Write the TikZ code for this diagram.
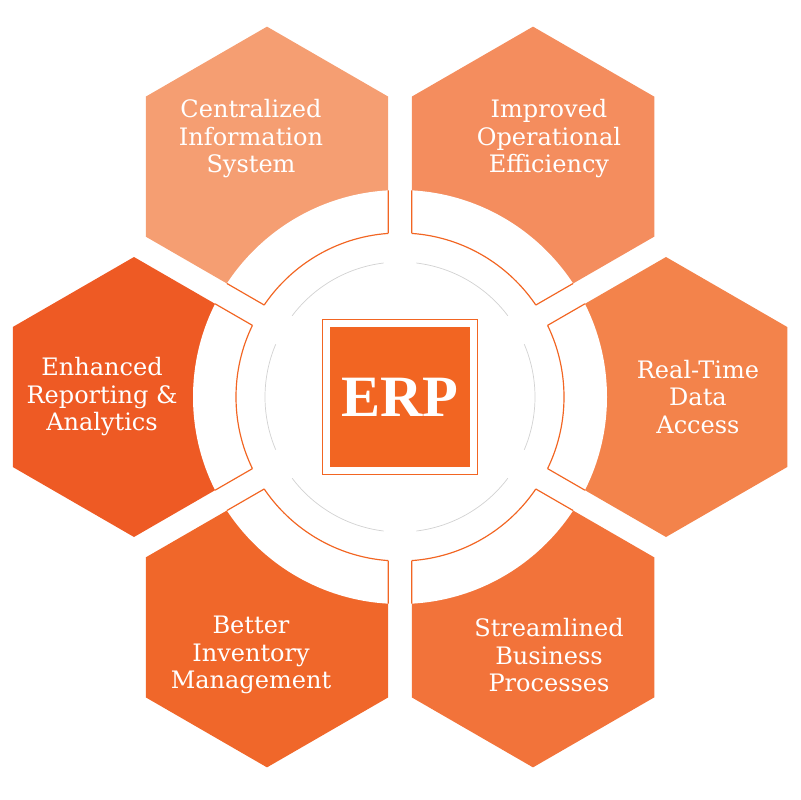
\documentclass[tikz,border=0pt]{standalone}
\usepackage{fontspec}
\setmainfont{Liberation Serif}
\newfontfamily\labelfont{DejaVu Serif}
\usetikzlibrary{positioning,calc}
\definecolor{hexA}{HTML}{F59E72}
\definecolor{hexB}{HTML}{F48D5E}
\definecolor{hexC}{HTML}{F3834B}
\definecolor{hexD}{HTML}{F2733A}
\definecolor{hexE}{HTML}{F0672A}
\definecolor{hexF}{HTML}{EE5A24}
\definecolor{erp}{HTML}{F26522}
\newcommand{\hexagon}[1]{(#1)+(30:140)--+(90:140)--+(150:140)--+(210:140)--+(270:140)--+(330:140)--cycle}
\tikzset{
 hextext/.style={text=white,align=center,font=\labelfont\fontsize{20.5}{23.5}\selectfont},
 ring/.style={draw=erp,line width=0.5pt}
}
\begin{document}
\begin{tikzpicture}[x=0.3mm,y=-0.3mm]
 \useasboundingbox (0,0) rectangle (800,800);
 \coordinate (c) at (400,397);
 % hexagons
 \foreach \ang/\col [count=\i] in {-120/hexA,-60/hexB,0/hexC,60/hexD,120/hexE,180/hexF} {
  \coordinate (h\i) at ($(c)+(\ang:266)$);
  \fill[\col] \hexagon{h\i};
 }
 % white band
 \fill[white] (c) circle (207);
 \foreach \i in {1,...,6} {
  \begin{scope}[even odd rule]
   \clip (c) circle (207) (c) circle (164);
   \draw[ring,line width=1pt] \hexagon{h\i};
  \end{scope}
  \begin{scope}
   \clip \hexagon{h\i};
   \draw[ring,line width=1pt] (c) circle (164);
  \end{scope}
 }
 % labels
 \foreach \ang/\txt [count=\i] in {-120/{Centralized\\Information\\System},
   -60/{Improved\\Operational\\Efficiency},
   0/{Real-Time\\Data\\Access},
   60/{Streamlined\\Business\\Processes},
   120/{Better\\Inventory\\Management},
   180/{Enhanced\\Reporting \&\\Analytics}} {
  \node[hextext] (t\i) at ($(c)+(\ang:298)$) {\txt};
 }
 % dashed ring
 \foreach \a in {30,90,...,330} {
  \draw[gray!35,line width=0.6pt] ($(c)+(\a+7:135)$) arc[start angle=\a+7,end angle=\a+53,radius=135];
 }
 % centre
 \node[draw=erp,line width=0.6pt,minimum size=155*0.3mm,inner sep=0pt] (box) at (c) {};
 \node[fill=erp,minimum size=140*0.3mm,inner sep=0pt,text=white,font=\bfseries\fontsize{50}{50}\selectfont] (erp) at (c) {ERP};
\end{tikzpicture}
\end{document}
